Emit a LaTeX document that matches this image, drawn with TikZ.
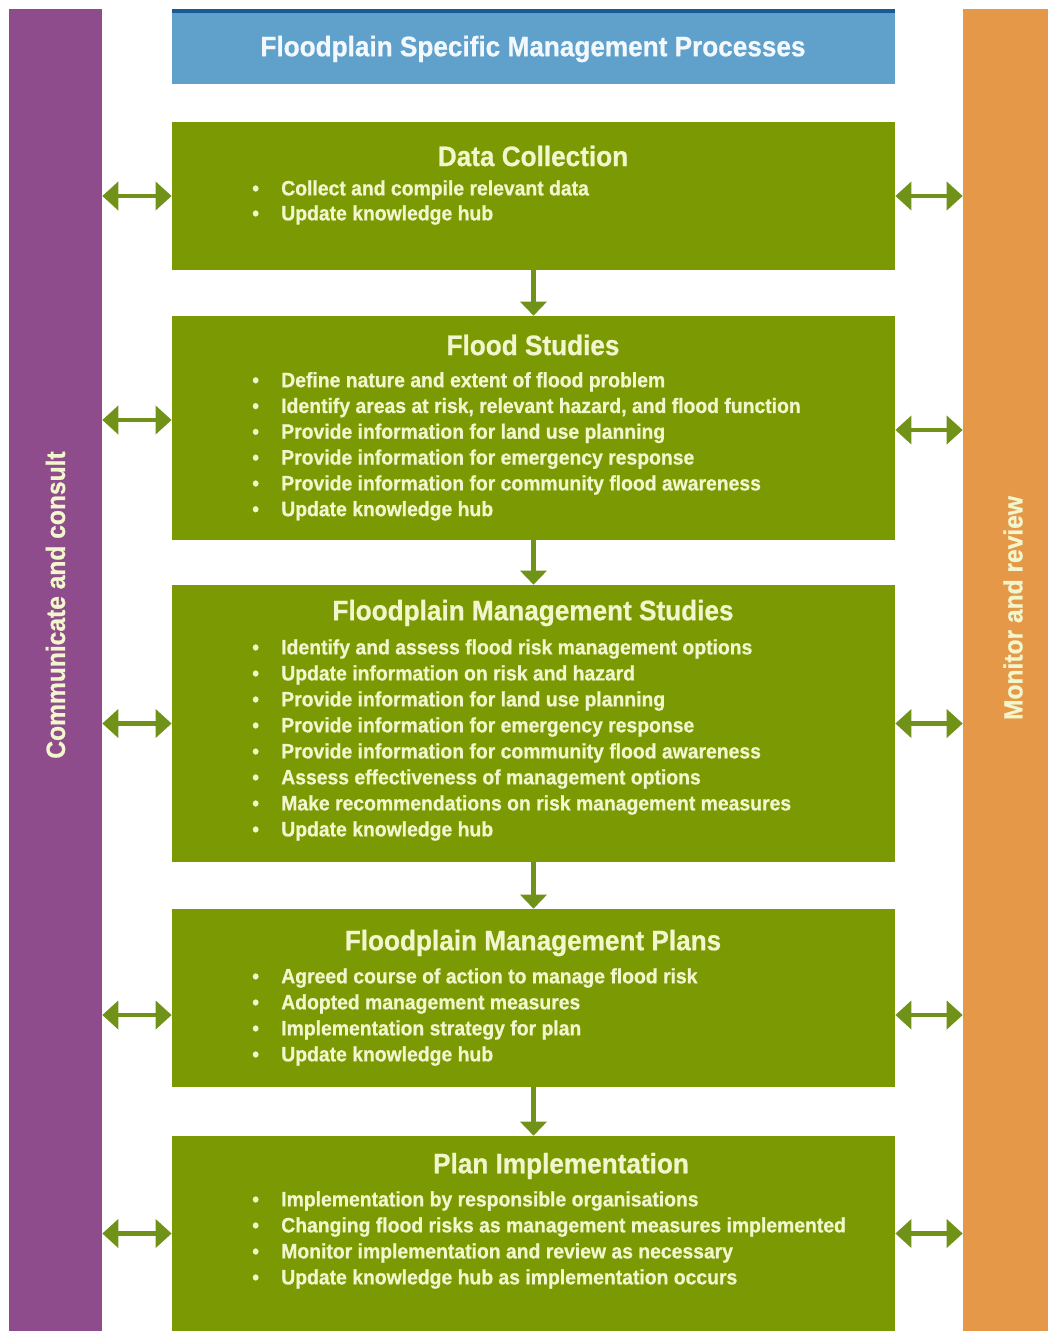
\documentclass[tikz,border=0pt]{standalone}
\usepackage{fontspec}
\setmainfont{Liberation Sans}[FakeStretch=0.93, BoldFeatures={FakeBold=0.8}]
\usetikzlibrary{arrows.meta}

\definecolor{procgreen}{RGB}{122,153,2}
\definecolor{arrowgreen}{RGB}{112,146,24}
\definecolor{commpurple}{RGB}{142,76,140}
\definecolor{monorange}{RGB}{229,152,72}
\definecolor{headblue}{RGB}{96,161,204}
\definecolor{topblue}{RGB}{24,90,150}
\definecolor{cream}{RGB}{242,246,204}

\newcommand{\bul}{\makebox[0.725cm][l]{\textbullet}}

\begin{document}
\begin{tikzpicture}[
            x = 0.025cm, y = -0.025cm, % one unit = one pixel
            font = \bfseries,
            side/.style = {<->, > = {Triangle[width=0.7cm, length=0.4cm]}, line width=3.5pt, arrowgreen},
            down/.style = {-{Triangle[width=0.65cm, length=0.35cm]}, line width=3pt, arrowgreen}
        ]

        \tikzstyle{bar}=[inner sep=0, minimum height=33.05cm]
        \tikzstyle{proc}=[fill=procgreen, inner sep=0, minimum width=18.075cm]
        \tikzstyle{title}=[text=cream, font=\bfseries\fontsize{20}{24}\selectfont]
        \tikzstyle{item}=[text=cream, anchor=west, inner sep=0, font=\bfseries\fontsize{14.8}{18}\selectfont]
        \tikzstyle{bartext}=[rotate=90, text=cream, font=\bfseries\fontsize{18.8}{22}\selectfont]

        \useasboundingbox (0,0) rectangle (1050,1331);

        % side bars
        \node[bar, fill=commpurple, minimum width=2.325cm] (comm) at (55.5,670) {};
        \node[bar, fill=monorange, minimum width=2.125cm] (mon) at (1005.5,670) {};
        \node[bartext] (commtext) at (55.5,605) {Communicate and consult};
        \node[bartext] (montext) at (1013,608) {Monitor and review};

        % header
        \node[fill=headblue, inner sep=0, minimum width=18.075cm, minimum height=1.875cm] (head) at (533.5,46.5) {};
        \fill[topblue] (head.north west) rectangle ([yshift=-0.1cm]head.north east);
        \node[text=white!92!headblue, font=\bfseries\fontsize{20}{24}\selectfont] (headtext) at (533,49) {Floodplain Specific Management Processes};

        % process boxes
        \node[proc, minimum height=3.7cm] (collect) at (533.5,196) {};
        \node[proc, minimum height=5.6cm] (studies) at (533.5,428) {};
        \node[proc, minimum height=6.925cm] (fmstudies) at (533.5,723.5) {};
        \node[proc, minimum height=4.45cm] (fmplans) at (533.5,998) {};
        \node[proc, minimum height=4.875cm] (implement) at (533.5,1233.5) {};

        \node[title] (collect-t) at (533,156) {Data Collection};
        \node[title] (studies-t) at (533,345) {Flood Studies};
        \node[title] (fmstudies-t) at (533,613) {Floodplain Management Studies};
        \node[title] (fmplans-t) at (533,943) {Floodplain Management Plans};
        \node[title] (implement-t) at (561,1166) {Plan Implementation};

        \foreach \t [count=\i] in {Collect and compile relevant data, Update knowledge hub}
            \node[item] (collect-\i) at (252,{165+25*\i}) {\bul\t};

        \foreach \t [count=\i] in {Define nature and extent of flood problem,
                {Identify areas at risk, relevant hazard, and flood function},
                Provide information for land use planning,
                Provide information for emergency response,
                Provide information for community flood awareness,
                Update knowledge hub}
            \node[item] (studies-\i) at (252,{356+25.8*\i}) {\bul\t};

        \foreach \t [count=\i] in {Identify and assess flood risk management options,
                Update information on risk and hazard,
                Provide information for land use planning,
                Provide information for emergency response,
                Provide information for community flood awareness,
                Assess effectiveness of management options,
                Make recommendations on risk management measures,
                Update knowledge hub}
            \node[item] (fmstudies-\i) at (252,{623+26*\i}) {\bul\t};

        \foreach \t [count=\i] in {Agreed course of action to manage flood risk,
                Adopted management measures,
                Implementation strategy for plan,
                Update knowledge hub}
            \node[item] (fmplans-\i) at (252,{952+26*\i}) {\bul\t};

        \foreach \t [count=\i] in {Implementation by responsible organisations,
                Changing flood risks as management measures implemented,
                Monitor implementation and review as necessary,
                Update knowledge hub as implementation occurs}
            \node[item] (implement-\i) at (252,{1175+26*\i}) {\bul\t};

        % flow between the boxes
        \draw[down] (collect.south) -- (studies.north);
        \draw[down] (studies.south) -- (fmstudies.north);
        \draw[down] (fmstudies.south) -- (fmplans.north);
        \draw[down] (fmplans.south) -- (implement.north);

        % links to the side bars
        \coordinate (studies-l) at ([yshift=0.2cm]studies.west);
        \coordinate (studies-r) at ([yshift=-0.05cm]studies.east);
        \coordinate (fmplans-l) at ([yshift=-0.425cm]fmplans.west);
        \coordinate (fmplans-r) at ([yshift=-0.425cm]fmplans.east);
        \foreach \b in {collect, fmstudies, implement} {
            \draw[side] (comm.east |- \b.west) -- (\b.west);
            \draw[side] (\b.east) -- (mon.west |- \b.east);
        }
        \foreach \b in {studies, fmplans} {
            \draw[side] (comm.east |- \b-l) -- (\b-l);
            \draw[side] (\b-r) -- (mon.west |- \b-r);
        }

    \end{tikzpicture}
\end{document}
